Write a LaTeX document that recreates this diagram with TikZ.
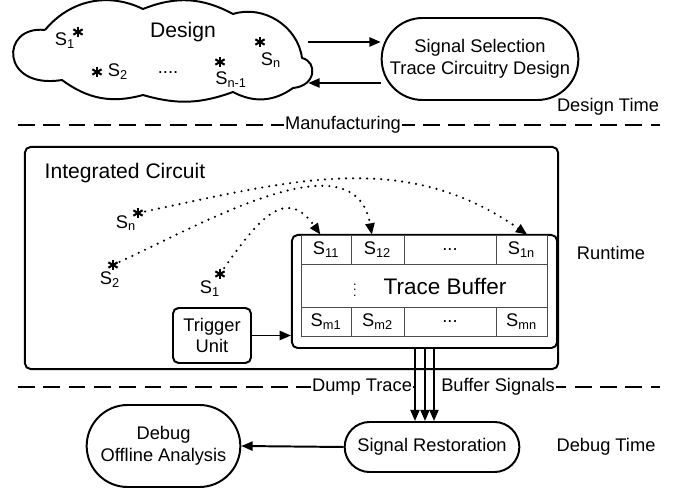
\documentclass[tikz,border=0pt]{standalone}
\usepackage{fontspec}
\setmainfont{Liberation Sans}
\usetikzlibrary{shapes.misc, positioning, arrows.meta}

\begin{document}
\begin{tikzpicture}[x=0.025cm,y=-0.025cm,>={Triangle[length=8pt,width=6.5pt]},
        every node/.style={font=\fontsize{13}{15.5}\selectfont},
        box/.style={draw,line width=1.4pt,rounded corners=4pt},
        oval/.style={draw,line width=1.4pt,rounded rectangle,align=center},
        cell/.style={draw=black!70,line width=0.6pt,minimum height=0.725cm,inner sep=0pt},
        sig/.style={circle,inner sep=0pt,minimum size=10pt,path picture={
            \foreach \a in {90,30,150}
              \draw[line width=1.5pt,shift={(path picture bounding box.center)}] (\a:3.8pt) -- (\a+180:3.8pt);}},
        sep/.style={line width=1.4pt,dash pattern=on 12pt off 6pt},
        lbl/.style={fill=white,inner sep=1pt},
        dots/.style={->,line width=1.7pt,line cap=round,dash pattern=on 0pt off 5pt},
        link/.style={->,line width=1.4pt}]
        \useasboundingbox (0,0) rectangle (678,491);

        \node[inner sep=0pt,minimum width=7.4cm,minimum height=2.3cm] (dsg) at (160,52) {};
        \draw[line width=1.4pt,line join=round] (45,30) to[bend left=38] (143,9) to[bend left=25] (233,14)
            to[bend left=50] (302,58) .. controls (318,62) and (316,86) .. (293,88)
            to[bend left=32] (233,92) to[bend left=18] (143,95) to[bend left=26] (62,80)
            .. controls (0,90) and (0,25) .. (45,30);
        \node[font=\fontsize{15}{17}\selectfont] (dlbl) at (183,32) {Design};
        \node[sig] (c1) at (78,32) {};
        \node (t1) at (65,41) {S\textsubscript{1}};
        \node[sig] (c2) at (97,72) {};
        \node (t2) at (118,72) {S\textsubscript{2}};
        \node (cdots) at (168,73) {....};
        \node[sig] (c3) at (220,62) {};
        \node (t3) at (231,80) {S\textsubscript{n-1}};
        \node[sig] (c4) at (260,42) {};
        \node (t4) at (271,60) {S\textsubscript{n}};

        \node[oval,minimum width=5.15cm,minimum height=2.05cm] (sel) at (480,59)
             {Signal Selection\\Trace Circuitry Design};
        \draw[link] (dsg.east |- 0,42) -- (sel.west |- 0,42);
        \draw[link] (sel.west |- 0,83) -- (dsg.east |- 0,83);
        \node (dtime) at (608,107) {Design Time};

        \draw[sep] (18,125) -- (660,125);
        \node[lbl] (mfg) at (343,125) {Manufacturing};

        \node[box,minimum width=13.325cm,minimum height=5.55cm] (ic) at (291.5,258) {};
        \node[font=\fontsize{15}{17}\selectfont] (iclbl) at (125,173) {Integrated Circuit};
        \node (rt) at (611,253) {Runtime};

        \node[sig] (sn) at (138,213) {};
        \node (tn) at (126,223) {S\textsubscript{n}};
        \node[sig] (s2) at (113,265) {};
        \node (ts2) at (110,280) {S\textsubscript{2}};
        \node[sig] (s1) at (220,274) {};
        \node (ts1) at (210,289) {S\textsubscript{1}};

        \node[box,minimum width=6.625cm,minimum height=2.825cm] (buf) at (424.5,291.5) {};
        \node[cell,minimum width=1.25cm] (s11) at (326,249.5) {S\textsubscript{11}};
        \node[cell,minimum width=1.325cm] (s12) at (377.5,249.5) {S\textsubscript{12}};
        \node[cell,minimum width=2.3cm] (r1) at (450,249.5) {...};
        \node[cell,minimum width=1.275cm] (s1n) at (521.5,249.5) {S\textsubscript{1n}};
        \node[cell,minimum width=6.15cm,minimum height=1.075cm] (mid) at (424,285.5) {};
        \node[font=\small] (vd) at (355,286) {$\vdots$};
        \node[font=\fontsize{16}{18}\selectfont] (tbl) at (445,286) {Trace Buffer};
        \node[cell,minimum width=1.25cm] (sm1) at (326,321.5) {S\textsubscript{m1}};
        \node[cell,minimum width=1.325cm] (sm2) at (377.5,321.5) {S\textsubscript{m2}};
        \node[cell,minimum width=2.3cm] (r3) at (450,321.5) {...};
        \node[cell,minimum width=1.275cm] (smn) at (521.5,321.5) {S\textsubscript{mn}};

        \draw[dots] (sn) to[out=12,in=145] ([xshift=4pt]s1n.north);
        \draw[dots] (s2) to[out=25,in=100] ([xshift=-4pt]s12.north);
        \draw[dots] (s1) to[out=55,in=125,looseness=1.5] ([xshift=-4pt]s11.north);

        \node[box,minimum width=1.95cm,minimum height=1.375cm,align=center,inner sep=2pt] (trg) at (212,335.5)
             {Trigger\\Unit};
        \draw[link] (trg.east) -- (buf.west |- trg.east);

        \node[oval,minimum width=4.6cm,minimum height=1.25cm] (rest) at (432,447) {Signal Restoration};
        \node[oval,minimum width=4.075cm,minimum height=2.05cm] (dbg) at (163.5,446)
             {Debug\\Offline Analysis};
        \draw[sep] (18,387) -- (660,387);
        \node[lbl] (dump) at (362,387) {Dump Trace};
        \node[lbl] (bsig) at (498,387) {Buffer Signals};
        \fill[white] (dump.east) ++(0,-6) rectangle (bsig.west |- 0,393);
        \foreach \x in {415,425,434}
            \draw[link] (buf.south -| \x,0) -- (rest.north -| \x,0);
        \draw[link] (rest.west) -- (dbg.east);
        \node (dbt) at (606,447) {Debug Time};
    \end{tikzpicture}
\end{document}
